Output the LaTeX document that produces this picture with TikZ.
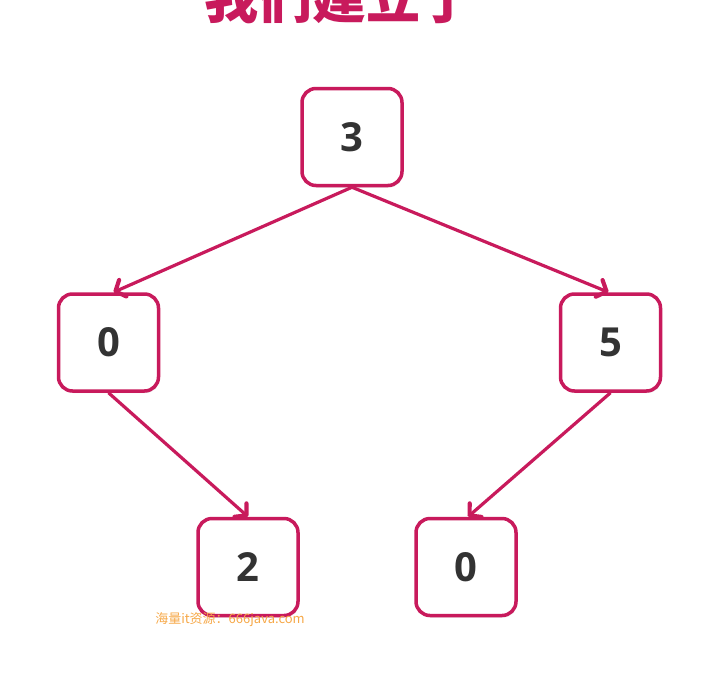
\documentclass[tikz,border=0pt]{standalone}
\usepackage{fontspec}
\setmainfont{Open Sans}
\newfontfamily\cjk{Noto Sans CJK SC}
\usepackage{tikz}
\usetikzlibrary{positioning}
\usetikzlibrary{shapes.geometric, arrows.meta, shadows}
\definecolor{treeRed}{RGB}{200,26,92}
\definecolor{numGray}{RGB}{51,51,51}
\definecolor{markOrange}{RGB}{246,168,72}
\tikzstyle{arrow} = [line width=3.2pt,-{Straight Barb[length=8pt,width=18pt,line width=0pt 1.3,round]},treeRed]
\tikzstyle{box} = [draw=treeRed,line width=3.5pt,fill=white,rounded corners=14pt,minimum width=100pt,minimum height=97pt,text=numGray,font=\fontsize{40}{40}\selectfont\bfseries,drop shadow={shadow xshift=1pt,shadow yshift=-2pt,opacity=0.18}]

\begin{document}
\begin{tikzpicture}
				\useasboundingbox (0pt,0pt) rectangle (706pt,-672pt);
				%Title
				\node (title) [anchor=base,text=treeRed,font=\cjk\fontsize{54}{54}\selectfont\bfseries] at (339pt,-18pt) {我们建立了};
				
				%Nodes
				\node (rect) [box] at (352pt,-137pt) (n3) {3};
				\node (rect) [box, below left=105pt and 140pt of n3] (n0) {0};
				\node (rect) [box, below right=105pt and 155pt of n3] (n5) {5};
				
				\node (rect) [box, below right=124pt and 36pt of n0] (n2) {2};
				\node (rect) [box, below left=124pt and 41pt of n5] (m0) {0};
				
				%Lines
				\draw[arrow] (n3.south) -- ([xshift=5pt]n0.north);
				\draw[arrow] (n3.south) -- ([xshift=-2pt]n5.north);
				
				\draw[arrow] (n0.south) -- (n2.north);
				\draw[arrow] (n5.south) -- ([xshift=2pt]m0.north);
				
				%Watermark
				\node (mark) [text=markOrange,font=\cjk\fontsize{13}{13}\selectfont] at (230pt,-620pt) {海量it资源：666java.com};
			\end{tikzpicture}
\end{document}
